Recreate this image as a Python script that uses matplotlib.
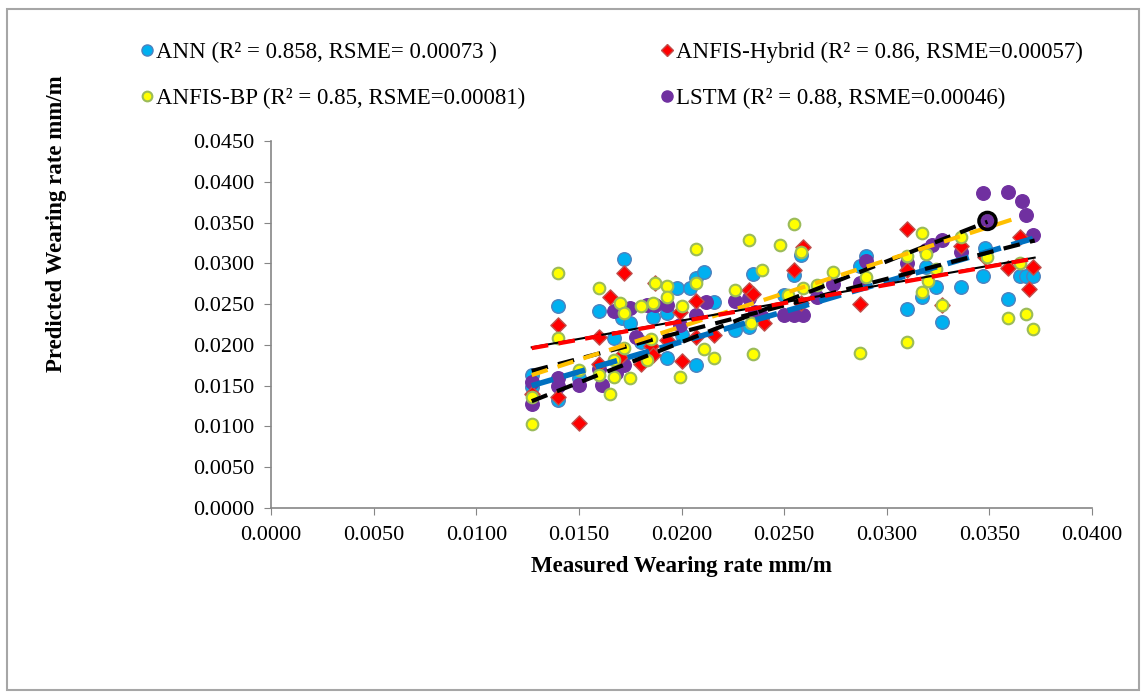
import matplotlib.pyplot as plt
from matplotlib.lines import Line2D
from matplotlib.patches import Rectangle

plt.rcParams['font.family'] = ['Liberation Serif', 'DejaVu Serif']

# measured / predicted pairs
ann_x = [0.0127, 0.0127, 0.0140, 0.0140, 0.0150, 0.0160, 0.0167, 0.0171, 0.0172, 0.0175,
         0.0180, 0.0186, 0.0193, 0.0193, 0.0198, 0.0200, 0.0204, 0.0207, 0.0207, 0.0211,
         0.0216, 0.0226, 0.0233, 0.0235, 0.0250, 0.0255, 0.0258, 0.0287, 0.0290, 0.0310,
         0.0317, 0.0319, 0.0324, 0.0327, 0.0336, 0.0347, 0.0348, 0.0359, 0.0365, 0.0368, 0.0371]
ann_y = [0.0163, 0.0148, 0.0248, 0.0132, 0.0160, 0.0241, 0.0208, 0.0233, 0.0305, 0.0227,
         0.0203, 0.0234, 0.0239, 0.0184, 0.0270, 0.0212, 0.0270, 0.0282, 0.0175, 0.0289,
         0.0252, 0.0218, 0.0222, 0.0287, 0.0261, 0.0286, 0.0310, 0.0297, 0.0309, 0.0244,
         0.0259, 0.0296, 0.0271, 0.0228, 0.0271, 0.0284, 0.0319, 0.0256, 0.0284, 0.0284, 0.0284]

hyb_x = [0.0127, 0.0140, 0.0140, 0.0150, 0.0160, 0.0160, 0.0165, 0.0170, 0.0172, 0.0180,
         0.0185, 0.0186, 0.0187, 0.0193, 0.0199, 0.0200, 0.0207, 0.0207, 0.0216, 0.0233,
         0.0235, 0.0240, 0.0255, 0.0258, 0.0259, 0.0287, 0.0310, 0.0310, 0.0327, 0.0336,
         0.0348, 0.0359, 0.0365, 0.0369, 0.0371]
hyb_y = [0.0140, 0.0224, 0.0136, 0.0104, 0.0210, 0.0176, 0.0259, 0.0185, 0.0288, 0.0176,
         0.0199, 0.0188, 0.0276, 0.0206, 0.0240, 0.0180, 0.0254, 0.0210, 0.0212, 0.0267,
         0.0262, 0.0227, 0.0292, 0.0251, 0.0320, 0.0250, 0.0342, 0.0292, 0.0249, 0.0321,
         0.0308, 0.0294, 0.0332, 0.0269, 0.0296]

bp_x = [0.0127, 0.0127, 0.0140, 0.0140, 0.0150, 0.0160, 0.0160, 0.0165, 0.0167, 0.0167,
        0.0170, 0.0172, 0.0172, 0.0175, 0.0180, 0.0183, 0.0185, 0.0186, 0.0187, 0.0193,
        0.0193, 0.0199, 0.0200, 0.0207, 0.0207, 0.0211, 0.0216, 0.0226, 0.0233, 0.0234,
        0.0235, 0.0239, 0.0248, 0.0252, 0.0255, 0.0258, 0.0259, 0.0266, 0.0274, 0.0287,
        0.0290, 0.0310, 0.0310, 0.0317, 0.0317, 0.0319, 0.0320, 0.0324, 0.0327, 0.0336,
        0.0349, 0.0359, 0.0365, 0.0368, 0.0371]
bp_y = [0.0136, 0.0103, 0.0288, 0.0208, 0.0169, 0.0270, 0.0163, 0.0140, 0.0181, 0.0161,
        0.0251, 0.0239, 0.0196, 0.0159, 0.0248, 0.0181, 0.0207, 0.0251, 0.0276, 0.0272,
        0.0259, 0.0161, 0.0248, 0.0317, 0.0276, 0.0195, 0.0184, 0.0267, 0.0328, 0.0227,
        0.0189, 0.0292, 0.0322, 0.0261, 0.0348, 0.0314, 0.0270, 0.0273, 0.0289, 0.0190,
        0.0283, 0.0309, 0.0203, 0.0337, 0.0265, 0.0311, 0.0278, 0.0293, 0.0249, 0.0332,
        0.0308, 0.0233, 0.0301, 0.0238, 0.0219]

lstm_x = [0.0127, 0.0127, 0.0140, 0.0140, 0.0150, 0.0161, 0.0160, 0.0167, 0.0168, 0.0172,
          0.0175, 0.0178, 0.0183, 0.0187, 0.0193, 0.0199, 0.0207, 0.0212, 0.0226, 0.0233,
          0.0236, 0.0239, 0.0250, 0.0255, 0.0259, 0.0266, 0.0274, 0.0287, 0.0290, 0.0310,
          0.0319, 0.0322, 0.0327, 0.0336, 0.0347, 0.0349, 0.0359, 0.0366, 0.0368, 0.0371]
lstm_y = [0.0128, 0.0155, 0.0159, 0.0150, 0.0151, 0.0151, 0.0170, 0.0241, 0.0165, 0.0175,
          0.0245, 0.0210, 0.0249, 0.0249, 0.0249, 0.0225, 0.0237, 0.0252, 0.0254, 0.0258,
          0.0240, 0.0234, 0.0237, 0.0237, 0.0237, 0.0259, 0.0275, 0.0276, 0.0303, 0.0300,
          0.0316, 0.0322, 0.0328, 0.0314, 0.0386, 0.0352, 0.0388, 0.0377, 0.0359, 0.0335]

# trend lines (start / end)
tr_ann_x, tr_ann_y = [0.0127, 0.0372], [0.0150, 0.0331]
tr_hyb_x, tr_hyb_y = [0.0127, 0.0372], [0.0196, 0.0306]
tr_bp_x, tr_bp_y = [0.0127, 0.0365], [0.0163, 0.0357]
tr_k1_x, tr_k1_y = [0.0127, 0.0349], [0.0131, 0.0351]
tr_k2_x, tr_k2_y = [0.0127, 0.0372], [0.0168, 0.0328]
tr_k3_x, tr_k3_y = [0.0127, 0.0372], [0.0197, 0.0307]

labels = ['ANN (R² = 0.858, RSME= 0.00073 )', 'ANFIS-Hybrid (R² = 0.86, RSME=0.00057)',
          'ANFIS-BP (R² = 0.85, RSME=0.00081)', 'LSTM (R² = 0.88, RSME=0.00046)']

fig = plt.figure(figsize=(11.46, 6.98), dpi=100)
ax = fig.add_axes([0.2365, 0.2722, 0.7165, 0.5258])

ax.scatter(ann_x, ann_y, s=95, c='#00B0F0', edgecolors='#4F81BD', linewidths=1, zorder=2)
ax.scatter(lstm_x, lstm_y, s=95, c='#7030A0', edgecolors='#7030A0', linewidths=1, zorder=3)
ax.scatter(hyb_x, hyb_y, s=60, marker='D', c='#FF0000', edgecolors='#C0504D', linewidths=1, zorder=4)
ax.scatter(bp_x, bp_y, s=70, c='#FFFF00', edgecolors='#9BBB59', linewidths=1.5, zorder=5)

ax.plot(tr_ann_x, tr_ann_y, color='#0070C0', lw=4, dashes=(4, 2), zorder=6)
ax.plot(tr_k1_x, tr_k1_y, color='black', lw=3, dashes=(4, 2.5), zorder=7)
ax.plot(tr_k2_x, tr_k2_y, color='black', lw=3, dashes=(4, 2.5), zorder=7)
ax.plot(tr_bp_x, tr_bp_y, color='#FFC000', lw=3, dashes=(4, 2.5), zorder=8)
ax.plot(tr_k3_x, tr_k3_y, color='black', lw=1.5, zorder=8)
ax.plot(tr_hyb_x, tr_hyb_y, color='#FF0000', lw=3, dashes=(4, 2.5), zorder=9)
ax.scatter([lstm_x[35]], [lstm_y[35]], s=150, facecolors='none', edgecolors='black', linewidths=2.5, zorder=10)

ax.set_xlim(0, 0.04)
ax.set_ylim(0, 0.045)
ax.set_xticks([i * 0.005 for i in range(9)])
ax.set_yticks([i * 0.005 for i in range(10)])
ax.xaxis.set_major_formatter(plt.FormatStrFormatter('%.4f'))
ax.yaxis.set_major_formatter(plt.FormatStrFormatter('%.4f'))
for s in ['top', 'right']:
    ax.spines[s].set_visible(False)
for s in ['left', 'bottom']:
    ax.spines[s].set_color('#868686')
    ax.spines[s].set_linewidth(1.2)
ax.tick_params(colors='#868686', labelcolor='black', labelsize=16, length=5, direction='out')
ax.tick_params(axis='x', pad=8)
ax.tick_params(axis='y', pad=7)
ax.set_xlabel('Measured Wearing rate mm/m', fontsize=16.5, fontweight='bold', labelpad=8)
ax.set_ylabel('Predicted Wearing rate mm/m', fontsize=16.5, fontweight='bold')
ax.yaxis.set_label_coords(-0.248, 0.774)

handles = [
    Line2D([], [], ls='', marker='o', ms=8, mfc='#00B0F0', mec='#4F81BD'),
    Line2D([], [], ls='', marker='o', ms=7, mfc='#FFFF00', mec='#9BBB59', mew=1.5),
    Line2D([], [], ls='', marker='D', ms=6, mfc='#FF0000', mec='#C0504D'),
    Line2D([], [], ls='', marker='o', ms=8, mfc='#7030A0', mec='#7030A0'),
]
fig.legend(handles, [labels[0], labels[2], labels[1], labels[3]], ncol=2, frameon=False,
           loc='upper left', bbox_to_anchor=(0.102, 0.97), fontsize=16.5,
           handletextpad=0.0, handlelength=0.8, columnspacing=5.8, labelspacing=1.1)

fig.patches.append(Rectangle((0.006, 0.012), 0.988, 0.975, transform=fig.transFigure,
                             fill=False, edgecolor='#A6A6A6', lw=1.5))

fig.savefig('out.png', dpi=100)
